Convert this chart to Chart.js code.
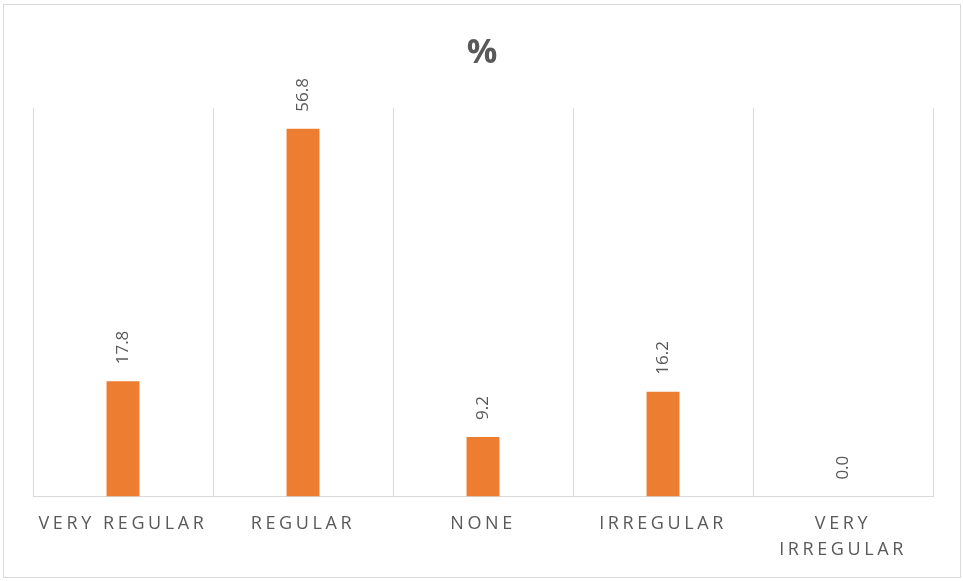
<!DOCTYPE html>
<html>
<head>
<meta charset="utf-8">
<script src="https://cdn.jsdelivr.net/npm/chart.js@4/dist/chart.umd.min.js"></script>
<style>
  html, body { margin: 0; padding: 0; background: #ffffff; }
  #wrap { width: 963px; height: 581px; }
</style>
</head>
<body>
<div id="wrap"><canvas id="chart" width="963" height="581"></canvas></div>
<script>
// Response categories (the last one wraps onto two lines)
const categories = ['VERY REGULAR', 'REGULAR', 'NONE', 'IRREGULAR', ['VERY', 'IRREGULAR']];
// Share of respondents, in percent
const percentages = [17.8, 56.8, 9.2, 16.2, 0.0];
const chartTitle = '%';

const TEXT_GREY = '#595959';
const LINE_GREY = '#d9d9d9';
const FONT = "'Open Sans', 'Liberation Sans', sans-serif";

const decorPlugin = {
  id: 'decor',
  beforeDraw(chart) {
    const ctx = chart.ctx;
    ctx.save();
    ctx.fillStyle = '#ffffff';
    ctx.fillRect(0, 0, chart.width, chart.height);
    ctx.strokeStyle = LINE_GREY;
    ctx.lineWidth = 1;
    ctx.strokeRect(3.5, 4.5, 957, 573);
    ctx.restore();
    // spaced-out capitals for the category axis
    ctx.letterSpacing = '3.6px';
  },
  beforeDatasetsDraw(chart) {
    chart.ctx.letterSpacing = '0px';
  },
  afterDatasetsDraw(chart) {
    const ctx = chart.ctx;
    const meta = chart.getDatasetMeta(0);
    ctx.save();
    ctx.letterSpacing = '0px';
    ctx.font = '17px ' + FONT;
    ctx.fillStyle = TEXT_GREY;
    ctx.textAlign = 'left';
    ctx.textBaseline = 'middle';
    meta.data.forEach((bar, i) => {
      const v = chart.data.datasets[0].data[i];
      ctx.save();
      ctx.translate(bar.x, bar.y - 17);
      ctx.rotate(-Math.PI / 2);
      ctx.fillText(v.toFixed(1), 0, 0);
      ctx.restore();
    });
    ctx.restore();
  },
  afterDraw(chart) {
    const ctx = chart.ctx;
    ctx.save();
    ctx.letterSpacing = '0px';
    ctx.font = 'bold 34px ' + FONT;
    ctx.fillStyle = TEXT_GREY;
    ctx.textAlign = 'center';
    ctx.textBaseline = 'middle';
    ctx.fillText(chartTitle, 482, 53);
    ctx.restore();
  }
};

new Chart(document.getElementById('chart'), {
  type: 'bar',
  data: {
    labels: categories,
    datasets: [{
      data: percentages,
      backgroundColor: '#ED7D31',
      borderWidth: 0,
      categoryPercentage: 1.0,
      barPercentage: 0.183
    }]
  },
  options: {
    responsive: false,
    devicePixelRatio: 1,
    animation: false,
    layout: { padding: { left: 33, right: 30, top: 108, bottom: 4 } },
    plugins: {
      legend: { display: false },
      title: { display: false },
      tooltip: { enabled: false }
    },
    scales: {
      x: {
        offset: true,
        grid: { display: true, offset: true, color: LINE_GREY, drawTicks: false },
        border: { display: true, color: LINE_GREY },
        ticks: {
          autoSkip: false,
          maxRotation: 0,
          minRotation: 0,
          padding: 15,
          color: TEXT_GREY,
          font: { family: FONT, size: 18, lineHeight: 1.4 }
        }
      },
      y: {
        display: false,
        min: 0,
        max: 60
      }
    }
  },
  plugins: [decorPlugin]
});
</script>
</body>
</html>
